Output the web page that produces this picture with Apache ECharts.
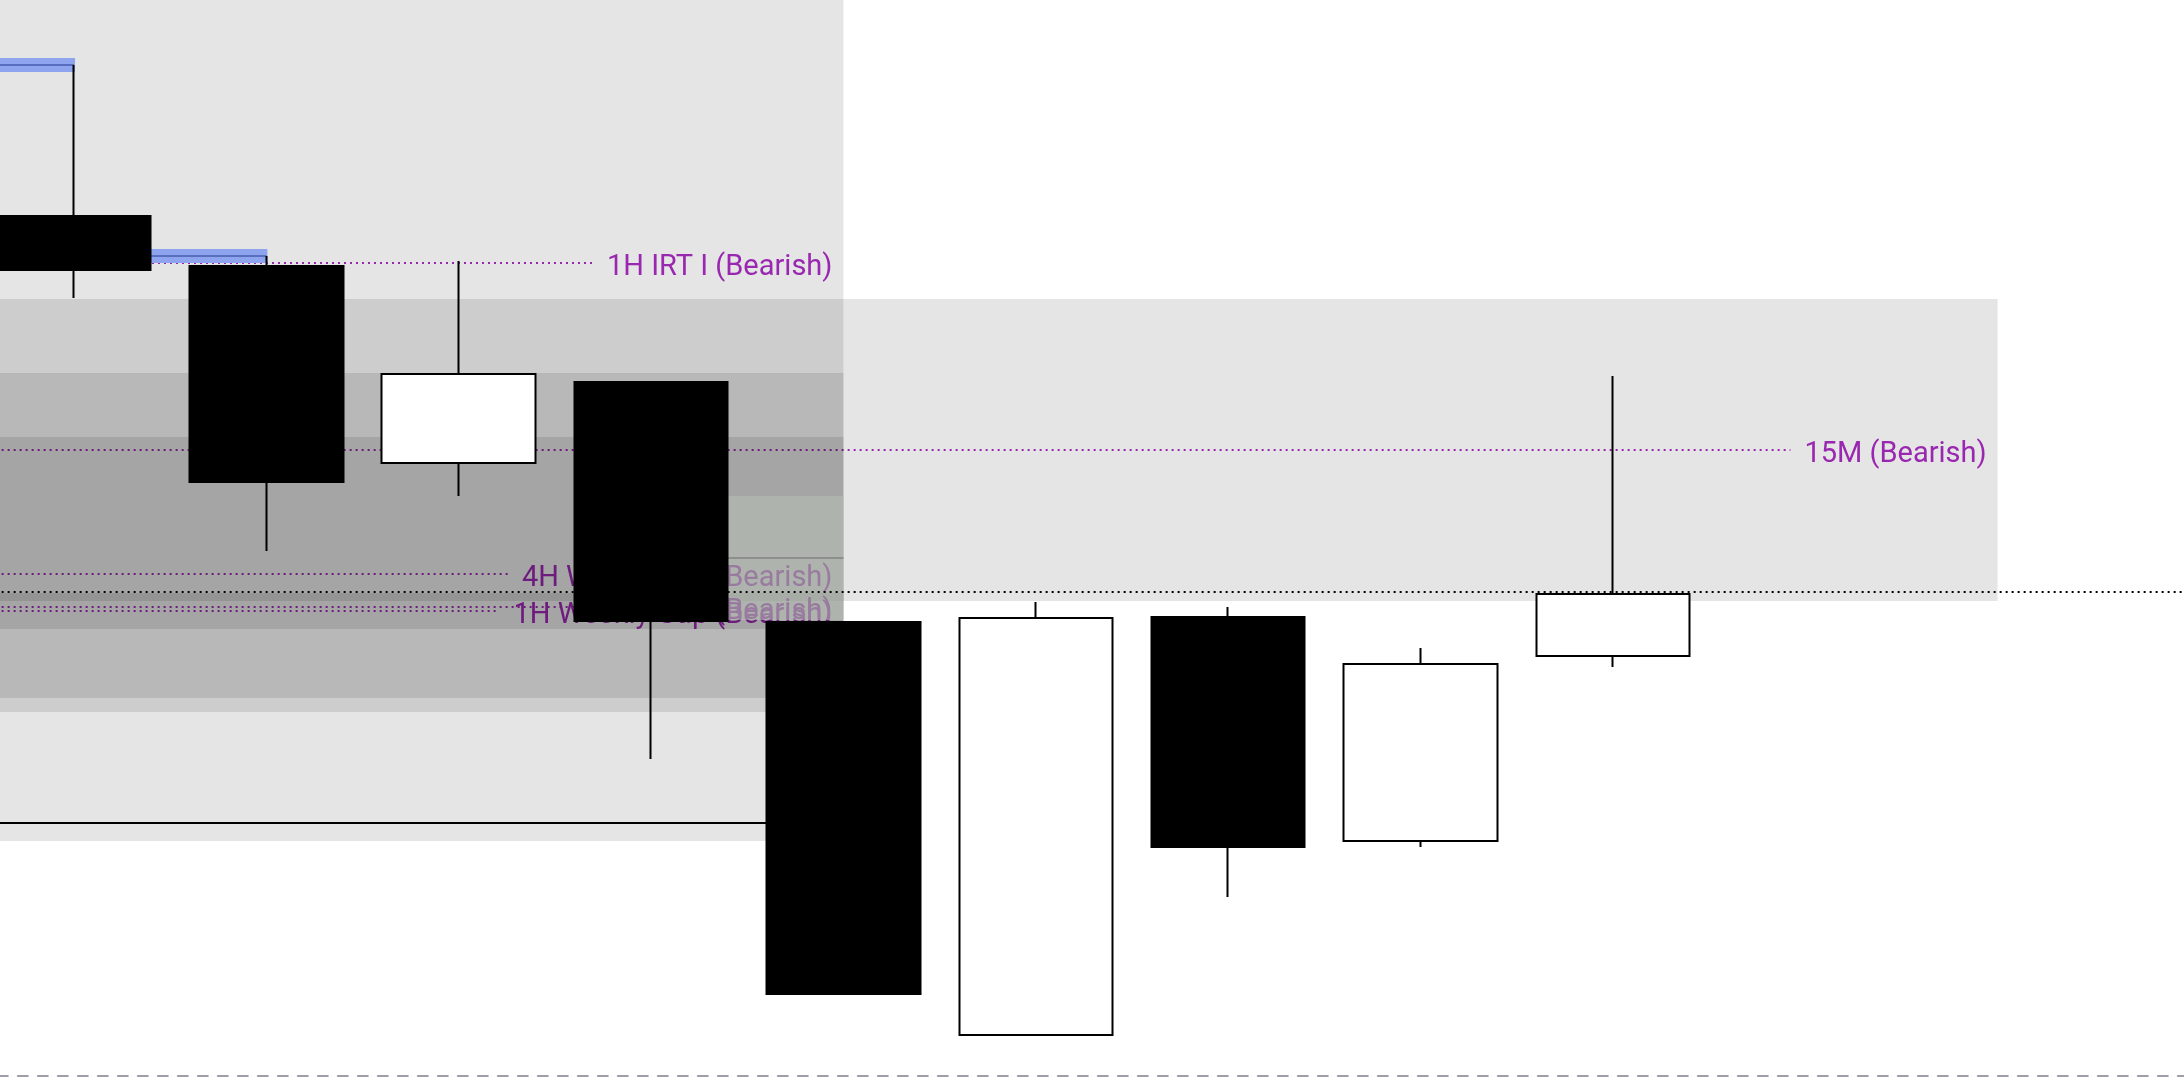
<!DOCTYPE html>
<html>
<head>
<meta charset="utf-8">
<style>
  html, body { margin: 0; padding: 0; background: #ffffff; }
  #chart { width: 2184px; height: 1078px; }
</style>
<script src="https://cdn.jsdelivr.net/npm/echarts@6/dist/echarts.min.js"></script>
</head>
<body>
<div id="chart"></div>
<script>
// ---------------- data ----------------
const categories = ['09:30','09:45','10:00','10:15','10:30','10:45','11:00','11:15','11:30','11:45','12:00','12:15'];
const opens  = [5249.2, 5246.7, 5236.85, 5240.9, 5228.9, 5208.25, 5229.15, 5217.95, 5227.2];
const closes = [5246.5, 5235.9, 5241.3, 5228.95, 5210.3, 5229.1, 5217.65, 5226.8, 5230.3];
const lows   = [5245.1, 5232.45, 5235.2, 5222.05, 5210.3, 5208.25, 5215.15, 5217.65, 5226.65];
const highs  = [5256.75, 5247.2, 5246.95, 5240.9, 5228.9, 5229.9, 5229.65, 5227.6, 5241.2];

// grey zones (slot index from / to, price top / bottom)
const zoneFrom   = [-1, -1, -1, -1, -1];
const zoneTo     = [4, 10, 4, 4, 4];
const zoneTop    = [5263, 5245.05, 5241.35, 5238.15, 5230.35];
const zoneBottom = [5217.95, 5229.95, 5224.4, 5225.1, 5228.55];

// purple dotted levels
const levelNames  = ['1H IRT I (Bearish)', '15M (Bearish)', '4H Weekly MB (Bearish)', '1H FVG (Bearish)', '1H Weekly Gap (Bearish)'];
const levelPrices = [5246.85, 5237.5, 5231.3, 5229.65, 5229.45];
const levelFrom   = [0, -1, -1, -1, -1];
const levelTo     = [4, 10, 4, 4, 4];

// gap box (slot from / to, top / bottom price)
const fvgFrom = [3], fvgTo = [4], fvgTop = [5235.2], fvgBottom = [5229.0];

// swing-high markers (candle index whose high is marked, from / to slot)
const markerCandle = [0, 1];
const markerFrom   = [-1, 0];
const markerTo     = [0, 1];

// other levels
const lastPrice = 5230.4;
const swingLow = 5218.85, swingLowFrom = -1, swingLowTo = 4;

// axis range
const yMin = 5206.2, yMax = 5260;

// ---------------- chart ----------------
const chart = echarts.init(document.getElementById('chart'), null, { renderer: 'canvas' });
const PURPLE = '#ab2cc4';
const FONT_SIZE = 29;
const FONT_FAMILY = 'Roboto';
const measureCtx = document.createElement('canvas').getContext('2d');
measureCtx.font = FONT_SIZE + 'px ' + FONT_FAMILY;

const candleData = opens.map((o, i) => [o, closes[i], lows[i], highs[i]]);

const zoneData = zoneFrom.map((f, i) => [f, zoneTop[i], zoneTo[i], zoneBottom[i]]);
const levelData = levelPrices.map((p, i) => [levelFrom[i], p, levelTo[i], p]);
const fvgData = fvgFrom.map((f, i) => [f, fvgTop[i], fvgTo[i], fvgBottom[i]]);
const markerData = markerCandle.map((c, i) => [markerFrom[i], highs[c], markerTo[i], highs[c]]);

const option = {
  animation: false,
  backgroundColor: '#ffffff',
  textStyle: { fontFamily: FONT_FAMILY },
  grid: { left: -22.18, top: 0, width: 2308.3, height: 1076, containLabel: false, outerBoundsMode: 'none' },
  xAxis: [
    {
      type: 'category', data: categories, boundaryGap: true,
      axisLine: { show: true, lineStyle: { color: '#9e9ea6', width: 2, type: [10, 10] } },
      axisTick: { show: false }, axisLabel: { show: false }, splitLine: { show: false }
    },
    { type: 'value', min: -0.5, max: 11.5, show: false }
  ],
  yAxis: { type: 'value', min: yMin, max: yMax, show: false, scale: true },
  series: [
    // level lines + labels (under the zones)
    {
      type: 'custom', xAxisIndex: 1, z: 1, data: levelData,
      encode: { x: [0, 2], y: [1, 3] },
      renderItem: function (params, api) {
        const i = params.dataIndex;
        const a = api.coord([api.value(0), api.value(1)]);
        const b = api.coord([api.value(2), api.value(3)]);
        const textRight = b[0] - 11;
        const w = measureCtx.measureText(levelNames[i]).width;
        const lineEnd = textRight - w - 14;
        return {
          type: 'group',
          children: [
            { type: 'line', shape: { x1: a[0], y1: a[1], x2: lineEnd, y2: a[1] },
              style: { stroke: PURPLE, lineWidth: 2, lineDash: [2, 4] } },
            { type: 'text', x: textRight, y: a[1] + 5,
              style: { text: levelNames[i], fill: PURPLE, fontSize: FONT_SIZE, fontFamily: FONT_FAMILY,
                       align: 'right', verticalAlign: 'middle' } }
          ]
        };
      }
    },
    // grey zones
    {
      type: 'custom', xAxisIndex: 1, z: 2, data: zoneData,
      encode: { x: [0, 2], y: [1, 3] },
      renderItem: function (params, api) {
        const a = api.coord([api.value(0), api.value(1)]);
        const b = api.coord([api.value(2), api.value(3)]);
        return { type: 'rect', shape: { x: a[0], y: a[1], width: b[0] - a[0], height: b[1] - a[1] },
                 style: { fill: 'rgba(0,0,0,0.1)' } };
      }
    },
    // gap box with midline
    {
      type: 'custom', xAxisIndex: 1, z: 3, data: fvgData,
      encode: { x: [0, 2], y: [1, 3] },
      renderItem: function (params, api) {
        const a = api.coord([api.value(0), api.value(1)]);
        const b = api.coord([api.value(2), api.value(3)]);
        const mid = api.coord([api.value(0), (api.value(1) + api.value(3)) / 2]);
        return {
          type: 'group',
          children: [
            { type: 'rect', shape: { x: a[0], y: a[1], width: b[0] - a[0], height: b[1] - a[1] },
              style: { fill: 'rgba(180,189,180,0.6)' } },
            { type: 'line', shape: { x1: a[0], y1: mid[1], x2: b[0], y2: mid[1] },
              style: { stroke: '#8c8f8c', lineWidth: 2 } }
          ]
        };
      }
    },
    // last price dotted line + swing low solid line
    {
      type: 'custom', xAxisIndex: 1, z: 3,
      data: [[-1, lastPrice, 12, lastPrice, 0], [swingLowFrom, swingLow, swingLowTo, swingLow, 1]],
      encode: { x: [0, 2], y: [1, 3] },
      renderItem: function (params, api) {
        const a = api.coord([api.value(0), api.value(1)]);
        const b = api.coord([api.value(2), api.value(3)]);
        const dotted = api.value(4) === 0;
        return { type: 'line', shape: { x1: a[0], y1: a[1], x2: b[0], y2: b[1] },
                 style: { stroke: '#000000', lineWidth: 2, lineDash: dotted ? [2, 4] : null } };
      }
    },
    // swing-high markers
    {
      type: 'custom', xAxisIndex: 1, z: 4, data: markerData,
      encode: { x: [0, 2], y: [1, 3] },
      renderItem: function (params, api) {
        const a = api.coord([api.value(0), api.value(1)]);
        const b = api.coord([api.value(2), api.value(3)]);
        return {
          type: 'group',
          children: [
            { type: 'rect', shape: { x: a[0], y: a[1] - 7, width: b[0] - a[0] + 1, height: 14 },
              style: { fill: '#8fa4ee' } },
            { type: 'line', shape: { x1: a[0], y1: a[1], x2: b[0], y2: a[1] },
              style: { stroke: '#5a6ebf', lineWidth: 2 } }
          ]
        };
      }
    },
    // candles
    {
      type: 'candlestick', xAxisIndex: 0, z: 5, data: candleData,
      barWidth: 154,
      itemStyle: { color: '#ffffff', color0: '#000000', borderColor: '#000000', borderColor0: '#000000', borderWidth: 2 }
    }
  ]
};
chart.setOption(option);
</script>
</body>
</html>
